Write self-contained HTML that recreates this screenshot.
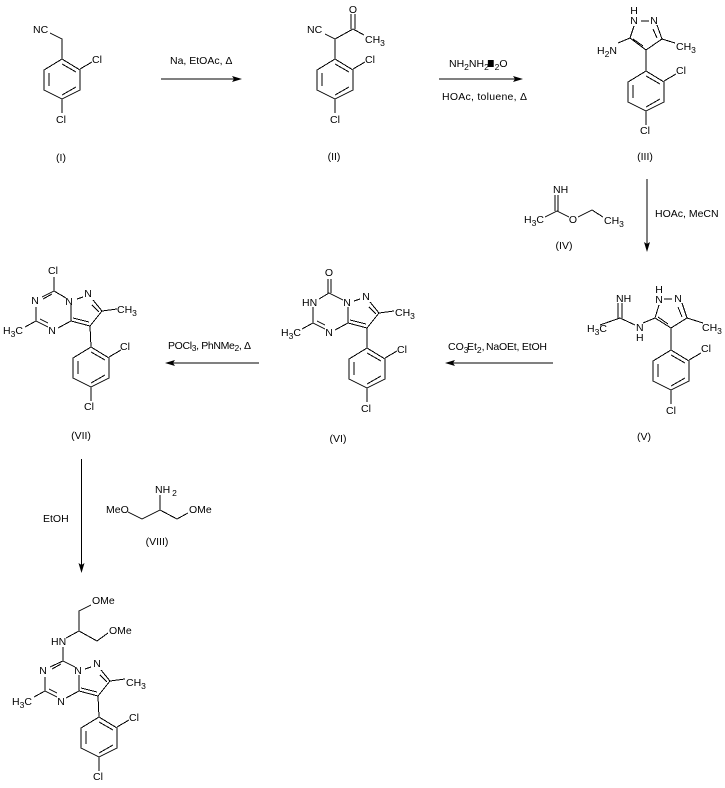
<!DOCTYPE html>
<html>
<head>
<meta charset="utf-8">
<style>
html,body{margin:0;padding:0;background:#fff;width:725px;height:788px;overflow:hidden}
svg{display:block}
text{font-family:"Liberation Sans",sans-serif;font-size:10.5px;fill:#000}
.s{font-size:8.5px}
.m{text-anchor:middle}
.b{fill:none;stroke:#000;stroke-width:1;shape-rendering:crispEdges}
</style>
</head>
<body>
<svg width="725" height="788" viewBox="0 0 725 788" xmlns="http://www.w3.org/2000/svg">
<rect width="725" height="788" fill="#fff"/>

<!-- Arrows -->
<path class="b" d="M161 79H236M439 79H517M647 179V246M553 363H451M259 363H171M81.500 459V567"/>
<polygon points="242,79 232,76 234,79 232,82"/>
<polygon points="523,79 513,76 515,79 513,82"/>
<polygon points="647,252 644,242 647,244 650,242"/>
<polygon points="445,363 455,360 453,363 455,366"/>
<polygon points="165,363 175,360 173,363 175,366"/>
<polygon points="81.500,573 78.500,563 81.500,565 84.500,563"/>

<!-- Arrow labels -->
<text x="170" y="64">Na, EtOAc, Δ</text>
<text x="449" y="67">NH<tspan class="s" dy="3">2</tspan><tspan dy="-3">NH</tspan><tspan class="s" dy="3">2</tspan></text>
<text x="487" y="67">H<tspan class="s" dy="3">2</tspan><tspan dy="-3">O</tspan></text>
<rect x="488" y="60" width="5" height="7"/>
<text x="442" y="100" textLength="85">HOAc, toluene, Δ</text>
<text x="655" y="217">HOAc, MeCN</text>
<text x="448" y="350">CO<tspan class="s" dy="3">3</tspan></text>
<text x="467" y="350">Et<tspan class="s" dy="3">2</tspan><tspan dy="-3">,</tspan></text>
<text x="486" y="350" textLength="61">NaOEt, EtOH</text>
<text x="168" y="349" textLength="83">POCl<tspan class="s" dy="2">3</tspan><tspan dy="-2">, PhNMe</tspan><tspan class="s" dy="2">2</tspan><tspan dy="-2">, Δ</tspan></text>
<text x="43" y="522">EtOH</text>

<!-- Compound labels -->
<text x="61" y="161" class="m">(I)</text>
<text x="334" y="160" class="m">(II)</text>
<text x="645" y="160" class="m">(III)</text>
<text x="564" y="249" class="m">(IV)</text>
<text x="644" y="440" class="m">(V)</text>
<text x="338" y="442" class="m">(VI)</text>
<text x="81" y="439" class="m">(VII)</text>
<text x="157" y="545" class="m">(VIII)</text>

<!-- I -->
<path class="b" transform="translate(62 59)" d="M0 0L18 11V31L0 40L-18 31V11ZM0 5L14 13M0 36L14 28M-13 14V27M18 10L30 3M0 40V54"/>
<path class="b" d="M50 33L62 39V59"/>
<text x="33" y="33">NC</text>
<text x="92" y="63">Cl</text>
<text x="61" y="123" class="m">Cl</text>

<!-- II -->
<path class="b" transform="translate(335 59)" d="M0 0L18 11V31L0 40L-18 31V11ZM0 5L14 13M0 36L14 28M-13 14V27M18 10L30 3M0 40V54"/>
<path class="b" d="M325 34L335 39V59M335 39L353 29L364 35M351 14V29M355 14V29"/>
<text x="307" y="33">NC</text>
<text x="353" y="13" class="m">O</text>
<text x="365" y="43">CH<tspan class="s" dy="3">3</tspan></text>
<text x="365" y="63">Cl</text>
<text x="335" y="123" class="m">Cl</text>

<!-- III -->
<path class="b" transform="translate(646 71)" d="M0 0L18 11V31L0 40L-18 31V11ZM0 5L14 13M0 36L14 28M-13 14V27M18 10L30 3M0 40V54"/>
<path class="b" d="M646 71V50L630 38L634 26M641 21H649M657 25L662 39L646 50M653 29L657 38M643 46L633 39M618 43L630 38M662 39L675 43"/>
<text x="634" y="14" class="m">H</text>
<text x="634" y="24" class="m">N</text>
<text x="654" y="24" class="m">N</text>
<text x="597" y="54">H<tspan class="s" dy="3">2</tspan><tspan dy="-3">N</tspan></text>
<text x="676" y="50">CH<tspan class="s" dy="3">3</tspan></text>
<text x="676" y="74">Cl</text>
<text x="645" y="134" class="m">Cl</text>

<!-- IV -->
<path class="b" d="M555 195V211M558 195V211M545 217L557 211L569 217M578 217L592 210L603 217"/>
<text x="553" y="193">NH</text>
<text x="524" y="223">H<tspan class="s" dy="3">3</tspan><tspan dy="-3">C</tspan></text>
<text x="573" y="223" class="m">O</text>
<text x="604" y="224">CH<tspan class="s" dy="3">3</tspan></text>

<!-- V -->
<path class="b" transform="translate(671 350)" d="M0 0L18 11V31L0 40L-18 31V11ZM0 5L14 13M0 36L14 28M-13 14V27M18 10L30 3M0 40V54"/>
<path class="b" d="M671 350V328L655 318L659 305M664 299H672M682 303L687 318L671 328M678 307L682 317M668 324L658 317M687 318L703 323M618 303V318M622 303V318M600 325L620 318L635 325M643 323L655 318"/>
<text x="659" y="293" class="m">H</text>
<text x="659" y="303" class="m">N</text>
<text x="678" y="302" class="m">N</text>
<text x="702" y="331">CH<tspan class="s" dy="3">3</tspan></text>
<text x="616" y="302">NH</text>
<text x="587" y="332">H<tspan class="s" dy="3">3</tspan><tspan dy="-3">C</tspan></text>
<text x="636" y="331">N</text>
<text x="636" y="341">H</text>
<text x="701" y="352">Cl</text>
<text x="671" y="414" class="m">Cl</text>

<!-- VI -->
<path class="b" transform="translate(367 348)" d="M0 0L18 11V31L0 40L-18 31V11ZM0 5L14 13M0 36L14 28M-13 14V27M18 10L30 3M0 40V54"/>
<path class="b" d="M348 307V323M354 301L360 299M370 302L379 313M369 307L376 314M379 313L394 311M379 313L367 328L348 323M350 320L366 324M367 328V348"/>
<path class="b" d="M328 279V293M331 279V293M319 299L329 293L343 300M313 307V323L325 329M317 321L325 325M313 323L302 329M348 323L335 330"/>
<text x="329" y="276" class="m">O</text>
<text x="302" y="306">HN</text>
<text x="347" y="306" class="m">N</text>
<text x="366" y="300" class="m">N</text>
<text x="395" y="316">CH<tspan class="s" dy="3">3</tspan></text>
<text x="329" y="336" class="m">N</text>
<text x="281" y="336">H<tspan class="s" dy="3">3</tspan><tspan dy="-3">C</tspan></text>
<text x="397" y="353">Cl</text>
<text x="366" y="412" class="m">Cl</text>

<!-- VII -->
<path class="b" transform="translate(91 347)" d="M0 0L18 11V31L0 40L-18 31V11ZM0 5L14 13M0 36L14 28M-13 14V27M18 10L30 3M0 40V54"/>
<path class="b" transform="translate(-277 -2)" d="M348 307V323M354 301L360 299M370 302L379 313M369 307L376 314M379 313L394 311M379 313L367 328L348 323M350 320L366 324"/>
<path class="b" d="M90 326L91 347M54 277V291L66 298M42 297L54 291M43 299L52 294M36 307V321L48 327M40 319L48 323M36 321L25 327M71 321L58 328"/>
<text x="53" y="274" class="m">Cl</text>
<text x="35" y="304" class="m">N</text>
<text x="69" y="305" class="m">N</text>
<text x="88" y="297" class="m">N</text>
<text x="52" y="334" class="m">N</text>
<text x="117" y="313">CH<tspan class="s" dy="3">3</tspan></text>
<text x="3" y="334">H<tspan class="s" dy="3">3</tspan><tspan dy="-3">C</tspan></text>
<text x="120" y="350">Cl</text>
<text x="89" y="410" class="m">Cl</text>

<!-- VIII -->
<path class="b" d="M128 512L142 519L160 510L177 519L188 513M160 510V495"/>
<text x="106" y="513">MeO</text>
<text x="155" y="493">NH<tspan class="s" dx="2" dy="3">2</tspan></text>
<text x="189" y="513">OMe</text>

<!-- Product -->
<path class="b" transform="translate(99 717)" d="M0 0L18 11V31L0 40L-18 31V11ZM0 5L14 13M0 36L14 28M-13 14V27M18 10L30 3M0 40V54"/>
<path class="b" transform="translate(-269 368)" d="M348 307V323M354 301L360 299M370 302L379 313M369 307L376 314M379 313L394 311M379 313L367 328L348 323M350 320L366 324"/>
<path class="b" d="M98 696L99 717M63 647V661L75 667M50 667L63 661M52 669L61 664M45 677V691L57 697M49 689L57 693M45 691L34 697M79 691L66 698M66 638L79 631V611L91 605M79 631L97 641L108 633"/>
<text x="92" y="604">OMe</text>
<text x="109" y="634">OMe</text>
<text x="51" y="645">HN</text>
<text x="43" y="674" class="m">N</text>
<text x="78" y="674" class="m">N</text>
<text x="97" y="667" class="m">N</text>
<text x="61" y="705" class="m">N</text>
<text x="126" y="686">CH<tspan class="s" dy="3">3</tspan></text>
<text x="12" y="705">H<tspan class="s" dy="3">3</tspan><tspan dy="-3">C</tspan></text>
<text x="129" y="721">Cl</text>
<text x="98" y="780" class="m">Cl</text>
</svg>
</body>
</html>
